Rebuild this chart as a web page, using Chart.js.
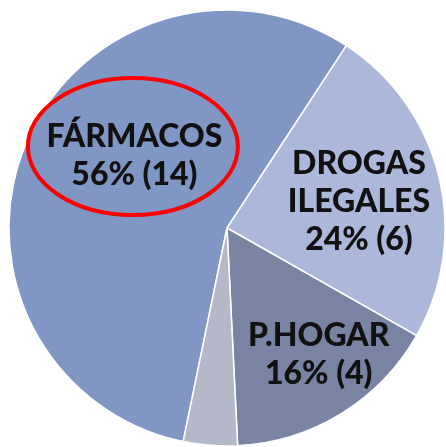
<!DOCTYPE html>
<html>
<head>
<meta charset="utf-8">
<script src="https://cdn.jsdelivr.net/npm/chart.js@4"></script>
<style>
  html, body { margin: 0; padding: 0; background: #fff; overflow: hidden; }
  #wrap { position: absolute; left: 0; top: 0; width: 456px; height: 456px; }
</style>
</head>
<body>
<div id="wrap"><canvas id="pie_chart"></canvas></div>
<script>
const categories = ['FÁRMACOS', 'DROGAS ILEGALES', 'P.HOGAR', 'OTROS'];
const casos = [14, 6, 4, 1];

// label lines per slice (empty = no label)
const labelLines = [['FÁRMACOS'], ['DROGAS', 'ILEGALES'], ['P.HOGAR'], []];

(function pie_chart()
{
    const total = casos.reduce((a, b) => a + b, 0);

    // where each label sits: fraction of radius, degrees from slice middle
    const placement = [
        { r: 0.542, turn: 16 },
        { r: 0.618, turn: 1.9 },
        { r: 0.714, turn: -4.5 },
        null
    ];

    const sliceLabels = {
        id: 'sliceLabels',
        afterDatasetsDraw(chart) {
            const ctx = chart.ctx;
            const arcs = chart.getDatasetMeta(0).data;
            ctx.save();
            ctx.font = '900 32px Lato';
            ctx.fillStyle = '#111111';
            ctx.textAlign = 'center';
            ctx.textBaseline = 'alphabetic';
            arcs.forEach((arc, i) => {
                const p = placement[i];
                if (!p) return;
                const mid = (arc.startAngle + arc.endAngle) / 2 + p.turn * Math.PI / 180;
                const cx = arc.x + Math.cos(mid) * arc.outerRadius * p.r;
                const cy = arc.y + Math.sin(mid) * arc.outerRadius * p.r;
                const lines = labelLines[i].concat(
                    Math.round(casos[i] / total * 100) + '% (' + casos[i] + ')');
                const lh = 38;
                const capH = 22;
                const top = cy - ((lines.length - 1) * lh + capH) / 2;
                lines.forEach((t, k) => ctx.fillText(t, cx, top + capH + k * lh));
                if (i === 0) {
                    ctx.beginPath();
                    ctx.ellipse(cx - 1.5, cy - 8, 105, 68.5, 0, 0, Math.PI * 2);
                    ctx.lineWidth = 4;
                    ctx.strokeStyle = '#ff0000';
                    ctx.stroke();
                }
            });
            ctx.restore();
        }
    };

    const sample = document.getElementById('pie_chart');
    const myChart = new Chart(sample, {
        type: 'pie',
        data: {
            labels: categories,
            datasets: [{
                data: casos,
                backgroundColor: [
                    'rgba(128, 150, 196, 1)',
                    'rgba(171, 184, 217, 1)',
                    'rgba(121, 132, 163, 1)',
                    'rgba(180, 184, 200, 1)'
                ],
                borderColor: '#ffffff',
                borderWidth: 1.5
            }]
        },
        options: {
            rotation: 191.6,
            radius: 218,
            animation: false,
            layout: { padding: { left: 9, top: 10, right: 11, bottom: 10 } },
            plugins: {
                legend: { display: false },
                tooltip: { enabled: false }
            },
            responsive: true,
            maintainAspectRatio: false
        },
        plugins: [sliceLabels]
    });
})();
</script>
</body>
</html>
